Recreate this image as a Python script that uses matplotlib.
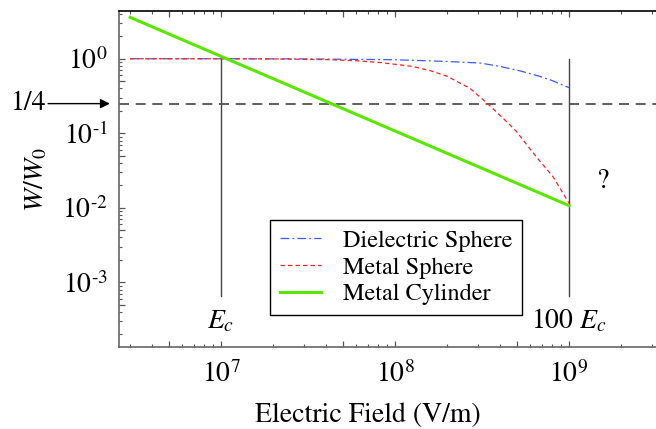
import matplotlib
matplotlib.use('Agg')
import matplotlib.pyplot as plt
from matplotlib.ticker import LogLocator, FuncFormatter, NullFormatter
import numpy as np

plt.rcParams['font.family'] = 'STIXGeneral'
plt.rcParams['mathtext.fontset'] = 'stix'

# electric field (V/m) and W/W0
e_dielectric = [3e6, 1e7, 3e7, 1e8, 2e8, 3.1e8, 4e8, 5.2e8, 6.8e8, 8e8, 9.5e8, 1e9]
w_dielectric = [1.0, 1.0, 0.995, 0.97, 0.92, 0.875, 0.79, 0.69, 0.58, 0.51, 0.43, 0.41]

e_metal_sphere = [3e6, 1e7, 2e7, 4e7, 6e7, 8.2e7, 1.26e8, 1.6e8, 2e8, 2.7e8, 3.4e8,
                  3.9e8, 4.6e8, 5e8, 5.4e8, 6.5e8, 8.1e8, 1e9]
w_metal_sphere = [1.0, 1.0, 0.995, 0.975, 0.94, 0.89, 0.79, 0.69, 0.58, 0.40, 0.25,
                  0.185, 0.128, 0.105, 0.083, 0.048, 0.026, 0.0115]

e_cylinder = [3e6, 1e9]
w_cylinder = [3.6, 0.0107]

labels = ['Dielectric Sphere', 'Metal Sphere', 'Metal Cylinder']

e_c = 1e7
field_marks = [e_c, 100 * e_c]
mark_labels = ['$E_c$', '$100\\ E_c$']
mark_range = [6.5e-4, 1.0]
quarter = 0.25


def decade_label(v, pos):
    # only label exact powers of ten, with a short hyphen for negatives
    k = int(round(np.log10(v)))
    if not np.isclose(v, 10.0 ** k):
        return ''
    if k < 0:
        return '$10^{\\text{-}%d}$' % (-k)
    return '$10^{%d}$' % k


fig = plt.figure(figsize=(6.56, 4.29), dpi=100)
ax = fig.add_axes([0.1814, 0.1911, 0.8186, 0.7832])

ax.set_xscale('log')
ax.set_yscale('log')
ax.set_xlim(2.59e6, 3.16e9)
ax.set_ylim(1.355e-4, 4.37)

# reference lines
ax.axhline(quarter, color='#444444', lw=1.2, dashes=(6, 4))
for xm in field_marks:
    ax.plot([xm, xm], mark_range, color='#444444', lw=1.0)

ax.plot(e_dielectric, w_dielectric, color='#3b5bff', lw=0.9,
        dashes=(7, 2.5, 1.5, 2.5), label=labels[0])
ax.plot(e_metal_sphere, w_metal_sphere, color='#ff2020', lw=0.9,
        dashes=(3.5, 2.5), label=labels[1])
ax.plot(e_cylinder, w_cylinder, color='#5ae600', lw=2.2, label=labels[2])

for xm, txt in zip(field_marks, mark_labels):
    ax.text(xm, 2.44e-4, txt, fontsize=20, ha='center', va='baseline')
ax.text(1.56e9, 0.0184, '?', fontsize=20, ha='center', va='baseline')

ytr = ax.get_yaxis_transform()
ax.annotate('', xy=(-0.017, quarter), xycoords=ytr, xytext=(-0.132, quarter),
            textcoords=ytr, annotation_clip=False,
            arrowprops=dict(arrowstyle='-|>', color='black', lw=1.0,
                            mutation_scale=14, shrinkA=0, shrinkB=0))
ax.text(-0.136, quarter, '1/4', transform=ytr, fontsize=20, ha='right',
        va='center', clip_on=False)

# ticks: decades labelled, 5x ticks long, others short
for axis in (ax.xaxis, ax.yaxis):
    axis.set_major_locator(LogLocator(base=10, subs=(1.0, 5.0), numticks=30))
    axis.set_major_formatter(FuncFormatter(decade_label))
    axis.set_minor_locator(LogLocator(base=10, subs=(2, 3, 4, 6, 7, 8, 9), numticks=30))
    axis.set_minor_formatter(NullFormatter())

ax.tick_params(which='both', direction='in', top=True, right=False,
               color='#555555', labelsize=20)
ax.tick_params(which='major', length=4, width=0.9)
ax.tick_params(which='minor', length=2, width=0.8)
ax.tick_params(axis='y', pad=8)
ax.tick_params(axis='x', pad=10)

ax.spines['right'].set_visible(False)
ax.spines['top'].set_color('black')
ax.spines['left'].set_color('#666666')
ax.spines['bottom'].set_color('#666666')
for s in ax.spines.values():
    s.set_linewidth(1.2)

ax.set_xlabel('Electric Field (V/m)', fontsize=20)
ax.xaxis.set_label_coords(0.464, -0.165)
ax.set_ylabel('$W/W_0$', fontsize=20)
ax.yaxis.set_label_coords(-0.13, 0.5)

leg = ax.legend(loc='lower left', bbox_to_anchor=(0.281, 0.095), fontsize=17.5,
                frameon=True, fancybox=False, framealpha=1, edgecolor='black',
                handlelength=1.7, handletextpad=0.9, labelspacing=0.2,
                borderpad=0.4, borderaxespad=0)
leg.get_frame().set_linewidth(1.0)

fig.savefig('out.png', dpi=100)
